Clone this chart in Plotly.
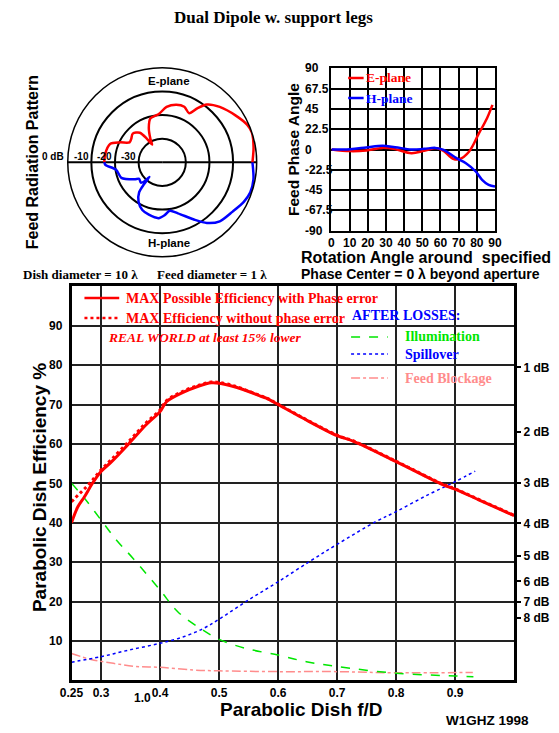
import plotly.graph_objects as go

W, H = 559, 733

# ---------------- data ----------------
# Polar feed pattern (dB, angle deg)
e_theta = [0, 9.4, 18.3, 23.9, 32.4, 43.9, 52.3, 57, 61.2, 68.3, 76.3, 85.5, 94.4, 104.9, 111.2,
           116.9, 119.8, 122.9, 127.1, 135.8, 143.3, 148.6, 154.8, 160.6, 171.3, 177.8, 180]
e_db = [-1.8, -0.8, 0.0, -0.7, -3.1, -6.2, -9.1, -12.8, -16.3, -14.7, -14.9, -16.5, -19.6, -20.7, -24.3,
        -29.0, -31.4, -28.3, -24.3, -22.6, -23.6, -23.8, -20.2, -16.6, -15.6, -15.5, -15.5]
h_theta = [0, -10.6, -18.8, -25.9, -35, -45.7, -53.6, -61, -72.9, -81.2, -87, -93.8, -104.3, -112.6,
           -120.9, -127.6, -129.7, -131.3, -132.7, -136.5, -144.5, -148.5, -159.2, -170.9, -177.4, -180]
h_db = [-1.8, -0.7, -0.6, -1.6, -3.6, -5.1, -8.1, -12.3, -17.4, -19.2, -17.7, -16.3, -17.1, -18.1,
        -20.5, -24.0, -27.9, -31.8, -29.2, -27.5, -28.0, -26.2, -21.5, -20.2, -15.9, -15.5]

# Feed phase
ph_angle_e = [0, 10.3, 19.1, 28, 35, 44, 51, 58.1, 61.7, 67, 70.5, 75.8, 81.2, 85.6, 88.6]
ph_e = [0, -1.8, -1.1, 1.8, 0.4, -4.1, -1.5, 1.5, -1.5, -10.3, -10.7, -2.2, 18.1, 34.7, 49.5]
ph_angle_h = [0, 10.3, 19.1, 28, 35, 44, 51, 57.2, 61.7, 68.8, 74, 79.4, 82.9, 86.5, 90]
ph_h = [0, 0.4, 2.2, 4.1, 2.6, 0, 0.7, 1.8, -0.4, -9.6, -15.2, -24.4, -33.6, -39.2, -41]
ph_yticks = [90, 67.5, 45, 22.5, 0, -22.5, -45, -67.5, -90]
ph_xticks = [0, 10, 20, 30, 40, 50, 60, 70, 80, 90]

# Efficiency vs f/D
fd_eff = [0.25, 0.261, 0.272, 0.2855, 0.30, 0.318, 0.348, 0.376, 0.40, 0.411, 0.438, 0.466, 0.487,
          0.50, 0.526, 0.55, 0.569, 0.58, 0.60, 0.64, 0.70, 0.727, 0.80, 0.88, 0.90, 0.94, 1.0]
eff_phase = [40.0, 44.1, 46.6, 50.0, 53.0, 55.5, 60.2, 64.8, 68.2, 70.7, 73.0, 74.7, 75.5,
             75.4, 74.5, 73.3, 72.2, 71.6, 70.0, 66.7, 62.1, 60.7, 55.5, 49.6, 48.5, 45.8, 41.8]
eff_nophase = [45.3, 47.0, 48.6, 50.8, 53.4, 56.1, 60.8, 65.3, 68.6, 71.0, 73.3, 74.9, 75.7,
               75.6, 74.7, 73.4, 72.3, 71.7, 70.1, 66.8, 62.2, 60.8, 55.6, 49.7, 48.6, 45.9, 41.9]
fd_ill = [0.25, 0.272, 0.30, 0.326, 0.354, 0.40, 0.43, 0.468, 0.50, 0.545, 0.60, 0.648, 0.70, 0.80, 0.90, 0.931]
ill = [50.0, 46.2, 40.7, 35.6, 31.0, 22.9, 17.4, 13.2, 10.4, 8.1, 6.4, 4.7, 3.5, 1.8, 1.1, 0.9]
fd_spill = [0.25, 0.30, 0.348, 0.40, 0.441, 0.474, 0.50, 0.55, 0.60, 0.657, 0.70, 0.766, 0.80, 0.853, 0.90, 0.934]
spill = [4.6, 6.0, 7.7, 9.4, 11.1, 13.2, 15.5, 20.4, 25.0, 30.5, 34.5, 40.3, 42.8, 47.0, 50.4, 53.1]
fd_blk = [0.25, 0.283, 0.321, 0.359, 0.40, 0.457, 0.50, 0.60, 0.70, 0.80, 0.93]
blk = [6.8, 5.3, 4.3, 3.5, 3.3, 2.6, 2.4, 2.2, 2.2, 1.9, 2.0]

fd_ticks = [0.25, 0.3, 0.4, 0.5, 0.6, 0.7, 0.8, 0.9]
fd_ticklabels = ["0.25", "0.3", "0.4", "0.5", "0.6", "0.7", "0.8", "0.9"]
eff_ticks = [10, 20, 30, 40, 50, 60, 70, 80, 90]
db_values = [1, 2, 3, 4, 5, 6, 7, 8]
db_labels = ["1 dB", "2 dB", "3 dB", "4 dB", "5 dB", "6 dB", "7 dB", "8 dB"]
db_eff = [100 * 10 ** (-d / 10) for d in db_values]

SANS = "Liberation Sans, Arial, sans-serif"
SERIF = "Liberation Serif, Times New Roman, serif"
RED = "#ff0000"
BLUE = "#0000ff"
GREEN = "#00e600"
PINK = "#ff8c8c"


def px(x):
    return x / W


def py(y):
    return 1 - y / H


fig = go.Figure()

# ---------- polar ----------
fig.add_trace(go.Scatterpolar(theta=e_theta, r=e_db, mode="lines", subplot="polar",
                              line=dict(color=RED, width=2.5, shape="spline", smoothing=0.8),
                              showlegend=False, hoverinfo="skip"))
fig.add_trace(go.Scatterpolar(theta=h_theta, r=h_db, mode="lines", subplot="polar",
                              line=dict(color=BLUE, width=2.5, shape="spline", smoothing=0.8),
                              showlegend=False, hoverinfo="skip"))

# ---------- phase ----------
fig.add_trace(go.Scatter(x=ph_angle_e, y=ph_e, mode="lines", xaxis="x2", yaxis="y2",
                         line=dict(color=RED, width=2.5, shape="spline"), showlegend=False))
fig.add_trace(go.Scatter(x=ph_angle_h, y=ph_h, mode="lines", xaxis="x2", yaxis="y2",
                         line=dict(color=BLUE, width=2.5, shape="spline"), showlegend=False))

# ---------- efficiency ----------
fig.add_trace(go.Scatter(x=fd_blk, y=blk, mode="lines", xaxis="x", yaxis="y",
                         line=dict(color=PINK, width=1.5, dash="dashdot", shape="spline"), showlegend=False))
fig.add_trace(go.Scatter(x=fd_spill, y=spill, mode="lines", xaxis="x", yaxis="y",
                         line=dict(color=BLUE, width=1.5, dash="dot", shape="spline"), showlegend=False))
fig.add_trace(go.Scatter(x=fd_ill, y=ill, mode="lines", xaxis="x", yaxis="y",
                         line=dict(color=GREEN, width=1.5, dash="dash", shape="spline"), showlegend=False))
fig.add_trace(go.Scatter(x=fd_eff, y=eff_nophase, mode="lines", xaxis="x", yaxis="y",
                         line=dict(color=RED, width=3, dash="dot", shape="spline"), showlegend=False))
fig.add_trace(go.Scatter(x=fd_eff, y=eff_phase, mode="lines", xaxis="x", yaxis="y",
                         line=dict(color=RED, width=3, shape="spline"), showlegend=False))
# invisible trace for the dB axis
fig.add_trace(go.Scatter(x=[0.25, 1.0], y=[0, 100], mode="markers", xaxis="x", yaxis="y3",
                         marker=dict(opacity=0), showlegend=False, hoverinfo="skip"))

tickfont = dict(family=SANS, size=12, color="black", weight="bold")

fig.update_layout(
    width=W, height=H, autosize=False,
    margin=dict(l=0, r=0, t=0, b=0),
    paper_bgcolor="white", plot_bgcolor="white",
    showlegend=False,
    polar=dict(
        domain=dict(x=[px(57.7), px(253.3)], y=[py(260.1), py(64.5)]),
        bgcolor="rgba(0,0,0,0)",
        radialaxis=dict(range=[-40, 0], tickvals=[-30, -20, -10], showticklabels=False, ticks="",
                        showline=False, gridcolor="black", gridwidth=1.5),
        angularaxis=dict(rotation=0, direction="counterclockwise", tickvals=[0, 180],
                         showticklabels=False, ticks="", gridcolor="black", gridwidth=1.5,
                         showline=True, linecolor="black", linewidth=1.5),
    ),
    xaxis2=dict(domain=[px(330.7), px(500)], anchor="y2", range=[0, 90], tickvals=ph_xticks,
                showgrid=True, gridcolor="black", gridwidth=1.5, showline=True, linecolor="black",
                linewidth=2, mirror=True, ticks="", zeroline=False, tickfont=tickfont),
    yaxis2=dict(domain=[py(230.7), py(68.3)], anchor="x2", range=[-90, 90], tickvals=ph_yticks,
                showticklabels=False,
                showgrid=True, gridcolor="black", gridwidth=1.5, showline=True, linecolor="black",
                linewidth=2, mirror=True, ticks="", zeroline=False),
    xaxis=dict(domain=[px(61.6), px(519.8)], anchor="y", range=[0.25, 1.0], tickvals=fd_ticks,
               ticktext=fd_ticklabels, showgrid=True, gridcolor="#222", gridwidth=1.5,
               showline=True, linecolor="black", linewidth=2.5, mirror=True, ticks="",
               zeroline=False, tickfont=tickfont),
    yaxis=dict(domain=[py(680.3), py(286.3)], anchor="x", range=[0, 100], tickvals=eff_ticks,
               showgrid=True, gridcolor="#222", gridwidth=1.5, showline=True, linecolor="black",
               linewidth=2.5, mirror=True, ticks="", zeroline=False, tickfont=tickfont,
               ticklabelstandoff=4),
    yaxis3=dict(overlaying="y", anchor="x", side="right", range=[0, 100], tickvals=db_eff,
                ticktext=db_labels, ticks="outside", ticklen=6, tickwidth=1.5, tickcolor="black",
                showgrid=False, showline=False, zeroline=False, tickfont=tickfont),
)

ann = []


def text(x, y, s, size, color="black", family=SANS, xanchor="center", angle=0):
    ann.append(dict(x=px(x), y=py(y), xref="paper", yref="paper", text=s, showarrow=False,
                    xanchor=xanchor, yanchor="middle", textangle=angle, borderpad=0,
                    font=dict(family=family, size=size, color=color)))


text(271, 18, "<b>Dual Dipole w. support legs</b>", 17, family=SERIF)
text(22, 162, "<b>Feed Radiation Pattern</b>", 16, angle=-90)
text(163, 81, "<b>E-plane</b>", 11.5)
text(163, 243, "<b>H-plane</b>", 11.5)
text(55, 156.5, "<b>0 dB</b>", 10, xanchor="right")
text(80.5, 156.5, "<b>-10</b>", 10, xanchor="right")
text(105, 156.5, "<b>-20</b>", 10, xanchor="right")
text(129.5, 156.5, "<b>-30</b>", 10, xanchor="right")

# phase-plot y tick labels (left aligned as in the original)
for v in ph_yticks:
    lab = ("%g" % v)
    ann.append(dict(x=px(302), y=v, xref="paper", yref="y2", text="<b>%s</b>" % lab, showarrow=False,
                    xanchor="left", yanchor="middle", borderpad=0,
                    font=dict(family=SANS, size=12, color="black")))

text(292, 150, "<b>Feed Phase Angle</b>", 15.5, angle=-90)
text(429, 257, "<b>Rotation Angle around  specified</b>", 16)
text(423, 274, "<b>Phase Center = 0 λ beyond aperture</b>", 14)
text(365, 78, "<b>E-plane</b>", 13.5, color=RED, family=SERIF, xanchor="left")
text(365, 98, "<b>H-plane</b>", 13.5, color=BLUE, family=SERIF, xanchor="left")

text(10, 274, "<b>Dish diameter = 10 λ</b>", 13, family=SERIF, xanchor="left")
text(149, 274, "<b>Feed diameter = 1 λ</b>", 13, family=SERIF, xanchor="left")

text(117, 298, "<b>MAX Possible Efficiency with Phase error</b>", 14, color=RED, family=SERIF, xanchor="left")
text(117, 318, "<b>MAX Efficiency without phase error</b>", 14, color=RED, family=SERIF, xanchor="left")
text(98, 338, "<b><i>REAL WORLD at least 15% lower</i></b>", 13.5, color=RED, family=SERIF, xanchor="left")
text(351, 315, "<b>AFTER LOSSES:</b>", 14, color=BLUE, family=SERIF, xanchor="left")
text(406, 337, "<b>Illumination</b>", 14, color=GREEN, family=SERIF, xanchor="left")
text(406, 354, "<b>Spillover</b>", 14, color=BLUE, family=SERIF, xanchor="left")
text(406, 378, "<b>Feed Blockage</b>", 14, color=PINK, family=SERIF, xanchor="left")

text(28, 488, "<b>Parabolic Dish Efficiency %</b>", 19, angle=-90)
text(300, 709, "<b>Parabolic Dish f/D</b>", 19)
text(135, 698, "<b>1.0</b>", 12)
text(492, 720, "<b>W1GHZ 1998</b>", 13.5)

fig.update_layout(annotations=ann)

shapes = []


def seg(x0, x1, y, color, width, dash="solid"):
    shapes.append(dict(type="line", xref="paper", yref="paper", x0=px(x0), x1=px(x1), y0=py(y), y1=py(y),
                       line=dict(color=color, width=width, dash=dash)))


seg(75, 111, 298, RED, 2.5)
seg(75, 111, 318, RED, 2.5, "dot")
seg(351, 389, 337, GREEN, 1.5, "dash")
seg(351, 389, 354, BLUE, 1.5, "dot")
seg(351, 389, 378, PINK, 1.5, "dashdot")
seg(348, 364, 78, RED, 2.5)
seg(348, 364, 98, BLUE, 2.5)
fig.update_layout(shapes=shapes)

fig.write_html(
    "out.html",
    config={"displayModeBar": False},
    post_script=("document.documentElement.style.margin='0';document.documentElement.style.padding='0';"
                 "document.body.style.margin='0';document.body.style.padding='0';"
                 "document.body.style.overflow='hidden';"),
)
